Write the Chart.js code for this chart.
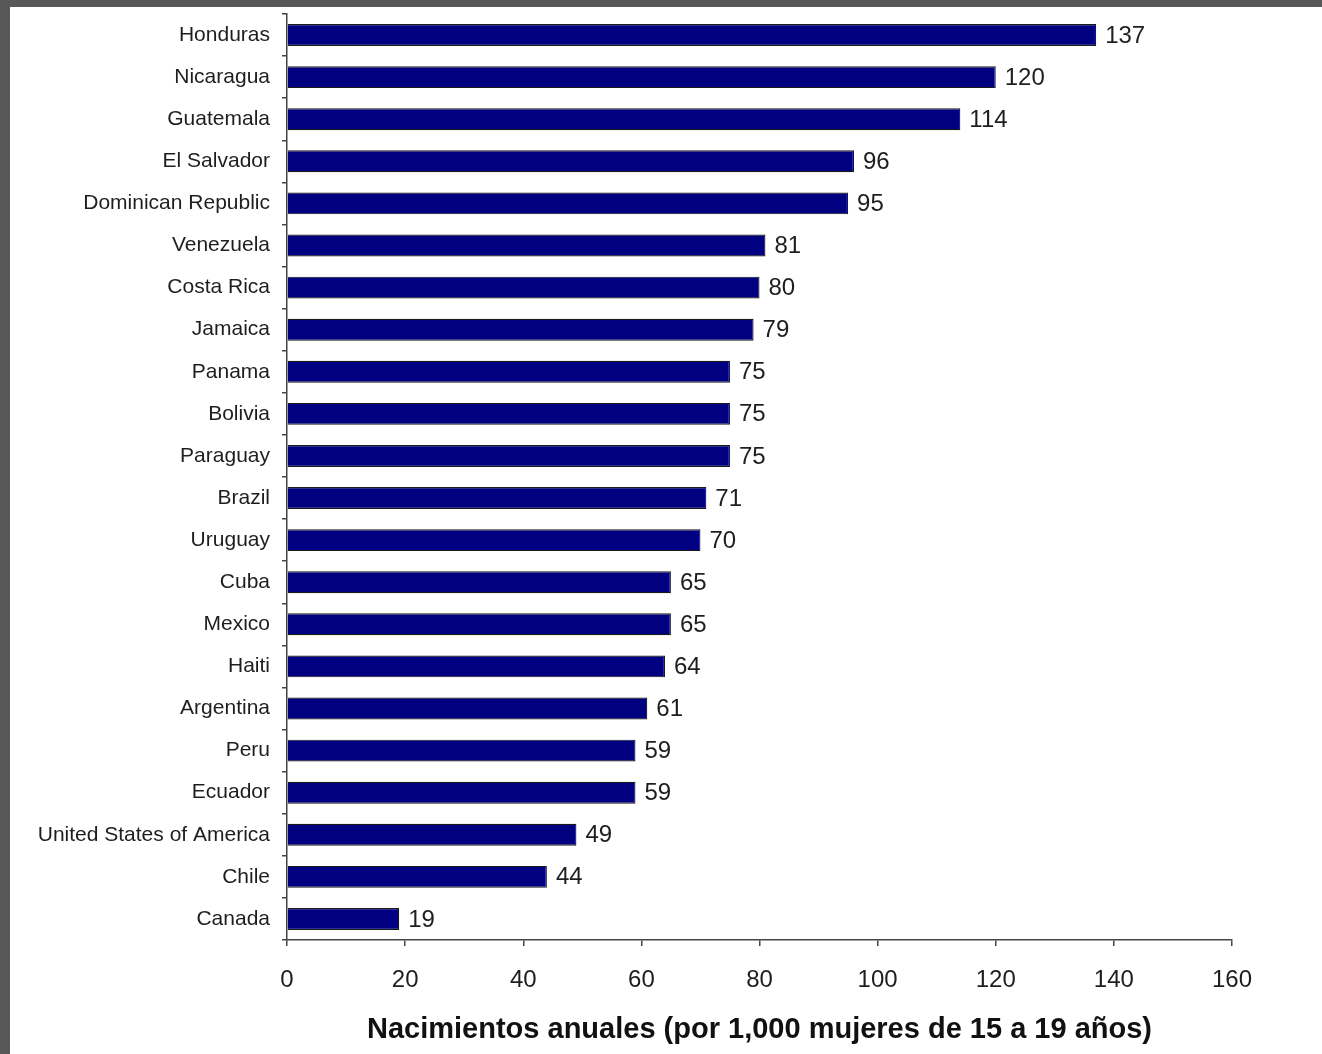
<!DOCTYPE html>
<html>
<head>
<meta charset="utf-8">
<script src="https://cdn.jsdelivr.net/npm/chart.js@4.4.1/dist/chart.umd.min.js"></script>
<style>
    html, body { margin: 0; padding: 0; }
    body { width: 1322px; height: 1054px; background: #585858; position: relative; overflow: hidden; }
    #frame { position: absolute; left: 10px; top: 7px; width: 1312px; height: 1047px; background: #ffffff; }
</style>
</head>
<body>
<div id="frame"><canvas id="birthChart" width="1312" height="1047"></canvas></div>
<script>
// Teen birth rates by country
const countries = [
    'Honduras', 'Nicaragua', 'Guatemala', 'El Salvador', 'Dominican Republic',
    'Venezuela', 'Costa Rica', 'Jamaica', 'Panama', 'Bolivia', 'Paraguay',
    'Brazil', 'Uruguay', 'Cuba', 'Mexico', 'Haiti', 'Argentina', 'Peru',
    'Ecuador', 'United States of America', 'Chile', 'Canada'
];
const birthRates = [137, 120, 114, 96, 95, 81, 80, 79, 75, 75, 75, 71, 70, 65, 65, 64, 61, 59, 59, 49, 44, 19];
const xTicks = [0, 20, 40, 60, 80, 100, 120, 140, 160];
const axisTitle = 'Nacimientos anuales (por 1,000 mujeres de 15 a 19 años)';

const fontFamily = '"Liberation Sans", Arial, sans-serif';
const axisColor = '#444444';
const textColor = '#1e1e1e';

// Draw the value next to the end of each bar
const valueLabels = {
    id: 'valueLabels',
    afterDatasetsDraw(chart) {
        const ctx = chart.ctx;
        const meta = chart.getDatasetMeta(0);
        ctx.save();
        ctx.font = '24px ' + fontFamily;
        ctx.fillStyle = textColor;
        ctx.textAlign = 'left';
        ctx.textBaseline = 'middle';
        meta.data.forEach((bar, i) => {
            ctx.fillText(String(birthRates[i]), bar.x + 9, bar.y + 1);
        });
        ctx.restore();
    }
};

new Chart(document.getElementById('birthChart'), {
    type: 'bar',
    data: {
        labels: countries,
        datasets: [{
            data: birthRates,
            backgroundColor: '#000080',
            borderColor: '#1a1a1a',
            borderWidth: 1.2,
            barPercentage: 0.52,
            categoryPercentage: 1.0
        }]
    },
    options: {
        indexAxis: 'y',
        responsive: false,
        animation: false,
        events: [],
        layout: {
            padding: { top: 7, right: 90, left: 0, bottom: 0 }
        },
        plugins: {
            legend: { display: false },
            tooltip: { enabled: false },
            title: { display: false }
        },
        scales: {
            x: {
                min: 0,
                max: 160,
                afterBuildTicks(scale) {
                    scale.ticks = xTicks.map(v => ({ value: v }));
                },
                afterFit(scale) {
                    scale.height = 114;
                },
                grid: {
                    drawOnChartArea: false,
                    drawTicks: true,
                    tickLength: 6,
                    color: axisColor,
                    lineWidth: 1.5
                },
                border: { display: true, color: axisColor, width: 1.5 },
                ticks: {
                    color: textColor,
                    padding: 20,
                    maxRotation: 0,
                    font: { family: fontFamily, size: 24 }
                },
                title: {
                    display: true,
                    text: axisTitle,
                    color: '#111111',
                    padding: { top: 0, bottom: 7 },
                    font: { family: fontFamily, size: 29, weight: 'bold' }
                }
            },
            y: {
                afterFit(scale) {
                    scale.width = 277;
                    // labels are centred in their bands, no extra room needed
                    scale.paddingTop = 0;
                    scale.paddingBottom = 0;
                },
                grid: {
                    drawOnChartArea: false,
                    drawTicks: true,
                    tickLength: 5,
                    color: axisColor,
                    lineWidth: 1.5
                },
                border: { display: true, color: axisColor, width: 1.5 },
                ticks: {
                    color: textColor,
                    padding: 12,
                    autoSkip: false,
                    font: { family: fontFamily, size: 21 }
                }
            }
        }
    },
    plugins: [valueLabels]
});
</script>
</body>
</html>
